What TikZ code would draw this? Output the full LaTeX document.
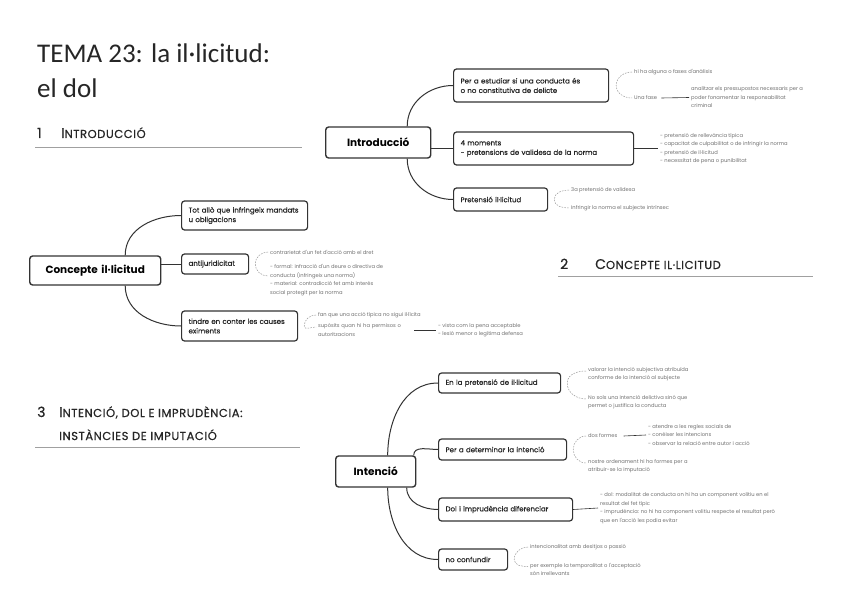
\documentclass[tikz,border=0pt]{standalone}
\usepackage{fontspec}
\setmainfont{Carlito}
\newfontfamily\pop{Poppins}
\newfontfamily\popm[FakeBold=0.35]{Poppins}
\newfontfamily\poph[FakeBold=0.6,LetterSpace=5]{Poppins}
\usetikzlibrary{calc}
\definecolor{boxc}{HTML}{333333}
\definecolor{txt}{HTML}{262626}
\definecolor{tinyc}{HTML}{707070}
\definecolor{dashc}{HTML}{9A9A9A}
\definecolor{rulec}{HTML}{A0A0A0}
\newcommand{\bigc}[1]{{\fontsize{14}{14}\selectfont #1}}
\newcommand{\smc}[1]{{\fontsize{11.5}{12}\selectfont #1}}
\begin{document}
\begin{tikzpicture}[x=1pt,y=-1pt,
 box/.style={draw=boxc, line width=1.2pt, rounded corners=3pt, fill=white, inner xsep=7pt, inner ysep=2pt, font=\popm\fontsize{7}{9.5}\selectfont, text=txt, align=left, anchor=west},
 rootbox/.style={box, line width=1.4pt, font=\pop\bfseries\fontsize{10.5}{12}\selectfont, align=center, text=black},
 tiny/.style={font=\pop\fontsize{5.2}{8.5}\selectfont, text=tinyc, align=left, anchor=west, inner xsep=2pt, inner ysep=0pt},
 conn/.style={draw=boxc, line width=1pt},
 lconn/.style={draw=boxc, line width=0.6pt},
 dconn/.style={draw=dashc, line width=0.5pt, dash pattern=on 1.6pt off 1.2pt},
 hrule/.style={draw=rulec, line width=0.9pt},
 heading/.style={font=\poph, text=txt, anchor=base west, inner sep=0pt},
 titlef/.style={font=\fontsize{27}{27}\selectfont, text=txt, anchor=base west, inner sep=0pt},
]
\useasboundingbox[fill=white] (0,0) rectangle (848,599);

% ---------- headings ----------
\node[titlef] (title1) at (37,63) {TEMA 23: la il·licitud:};
\node[titlef] (title2) at (37,98) {el dol};
\node[heading] (h1n) at (37,138) {\bigc{1}};
\node[heading] (h1t) at (61,138) {\bigc{I}\smc{NTRODUCCIÓ}};
\draw[hrule] (35,147) -- (302,147);
\node[heading] (h2n) at (560,269) {\bigc{2}};
\node[heading] (h2t) at (595,269) {\bigc{C}\smc{ONCEPTE IL·LICITUD}};
\draw[hrule] (558,276) -- (813,276);
\node[heading] (h3n) at (37,417) {\bigc{3}};
\node[heading] (h3t) at (59,417) {\bigc{I}\smc{NTENCIÓ, DOL E IMPRUDÈNCIA:}};
\node[heading] (h3u) at (59,440) {\smc{INSTÀNCIES DE IMPUTACIÓ}};
\draw[hrule] (35,447) -- (300,447);

% ---------- Introducció ----------
\node[rootbox, minimum width=105, minimum height=31, text width=91] (I) at (325,142.5) {Introducció};
\node[box, minimum width=155, minimum height=33, text width=141] (i1) at (453,85.5) {Per a estudiar si una conducta és\\o no constitutiva de delicte};
\node[box, minimum width=180, minimum height=33, text width=166] (i2) at (453,148.5) {4 moments\\- pretensions de validesa de la norma};
\node[box, minimum width=94, minimum height=23, text width=80] (i3) at (453,199.5) {Pretensió il·licitud};
\draw[conn] ([xshift=29]I.north) to[out=90,in=180] (i1.west);
\draw[conn] (I.east |- i2.west) -- (i2.west);
\draw[conn] ([xshift=29]I.south) to[out=-90,in=180] (i3.west);

\coordinate (bi1) at ($(i1.east)+(7,0)$);
\node[tiny] (ta1) at (632,72) {hi ha alguna o fases d'anàlisis};
\node[tiny] (ta2) at (632,98) {Una fase};
\node[tiny] (ta3) at (689,97.5) {analitzar els pressupostos necessaris per a\\poder fonamentar la responsabilitat\\criminal};
\draw[dconn] (ta1.west) to[out=180,in=90] (bi1) to[out=-90,in=180] (ta2.west);
\draw[lconn] ([xshift=2]ta2.east) -- (ta3.west);

\node[tiny] (ti2) at (658,148.5) {- pretensió de rellevància típica\\- capacitat de culpabilitat o de infringir la norma\\- pretensió de il·licitud\\- necessitat de pena o punibilitat};
\draw[lconn] (i2.east) -- (ti2.west);

\coordinate (bi3) at ($(i3.east)+(6,0)$);
\node[tiny] (tb1) at (569,190) {3a pretensió de validesa};
\node[tiny] (tb2) at (569,208) {Infringir la norma el subjecte intrínsec};
\draw[dconn] (tb1.west) to[out=180,in=90] (bi3) to[out=-90,in=180] (tb2.west);

% ---------- Concepte il·licitud ----------
\node[rootbox, minimum width=131, minimum height=29, text width=117] (C) at (29,270.5) {Concepte il·licitud};
\node[box, minimum width=126, minimum height=29, text width=112] (c1) at (181,215.5) {Tot allò que infringeix mandats\\u obligacions};
\node[box, minimum width=67, minimum height=20, text width=53] (c2) at (181,264) {antijuridicitat};
\node[box, minimum width=116, minimum height=30, text width=102] (c3) at (181,326) {tindre en conter les causes\\eximents};
\draw[conn] ([xshift=30]C.north) to[out=90,in=180] (c1.west);
\draw[conn] (C.east |- c2.west) -- (c2.west);
\draw[conn] ([xshift=30]C.south) to[out=-90,in=180] (c3.west);

\coordinate (bc2) at ($(c2.east)+(6,0)$);
\node[tiny] (tc1) at (268,252) {contrarietat d'un fet d'acció amb el dret};
\node[tiny] (tc2) at (268,280) {- formal: infracció d'un deure o directiva de\\conducta (infringeix una norma)\\- material: contradicció fet amb interès\\social protegit per la norma};
\draw[dconn] (tc1.west) to[out=180,in=90] (bc2) to[out=-90,in=180] ([yshift=4]tc2.west);

\coordinate (bc3) at ($(c3.east)+(6,0)$);
\node[tiny] (td1) at (316,315) {fan que una acció típica no sigui il·lícita};
\node[tiny, text width=94] (td2) at (316,330) {supòsits quan hi ha permisos o\\autoritzacions};
\node[tiny] (td3) at (436,330) {- vista com la pena acceptable\\- lesió menor o legítima defensa};
\draw[dconn] (td1.west) to[out=180,in=90] (bc3) to[out=-90,in=180] ([yshift=3]td2.west);
\draw[lconn] (td2.east) -- (td3.west);

% ---------- Intenció ----------
\node[rootbox, minimum width=80, minimum height=31, text width=66] (N) at (335,471.5) {Intenció};
\node[box, minimum width=120, minimum height=20, text width=108] (n1) at (438,383) {En la pretensió de il·licitud};
\node[box, minimum width=128, minimum height=21, text width=114] (n2) at (438,449.5) {Per a determinar la intenció};
\node[box, minimum width=134, minimum height=23, text width=120] (n3) at (438,509.5) {Dol i imprudència diferenciar};
\node[box, minimum width=69, minimum height=21, text width=55] (n4) at (438,559.5) {no confundir};
\draw[conn] ([xshift=12]N.north) to[out=90,in=180] (n1.west);
\draw[conn] ([xshift=38]N.north) to[out=90,in=180] (n2.west);
\draw[conn] ([xshift=31]N.south) to[out=-90,in=180] (n3.west);
\draw[conn] ([xshift=12]N.south) to[out=-90,in=180] (n4.west);

\coordinate (bn1) at ($(n1.east)+(6,0)$);
\node[tiny] (tn1) at (586,374) {valorar la intenció subjectiva atribuïda\\conforme de la intenció al subjecte};
\node[tiny] (tn2) at (586,402) {No sols una intenció delictiva sinó que\\permet o justifica la conducta};
\draw[dconn] ([yshift=3]tn1.west) to[out=180,in=90] (bn1) to[out=-90,in=180] ([yshift=3]tn2.west);

\coordinate (bn2) at ($(n2.east)+(6,0)$);
\node[tiny] (tn3) at (586,436) {dos formes};
\node[tiny] (tn4) at (646,435) {- atendre a les regles socials de\\- conèixer les intencions\\- observar la relació entre autor i acció};
\node[tiny] (tn5) at (586,466) {nostre ordenament hi ha formes per a\\atribuir-se la imputació};
\draw[dconn] (tn3.west) to[out=180,in=90] (bn2) to[out=-90,in=180] ([yshift=3]tn5.west);
\draw[lconn] ([xshift=4]tn3.east) -- (tn4.west);

\node[tiny] (tn6) at (598,508) {- dol: modalitat de conducta on hi ha un component volitiu en el\\resultat del fet típic\\- imprudència: no hi ha component volitiu respecte el resultat però\\que en l'acció les podia evitar};
\draw[lconn] (n3.east) -- (tn6.west);

\coordinate (bn4) at ($(n4.east)+(6,0)$);
\node[tiny] (tn7) at (528,547) {intencionalitat amb desitjos o passió};
\node[tiny] (tn8) at (528,569.5) {per exemple la temporalitat o l'acceptació\\són irrellevants};
\draw[dconn] (tn7.west) to[out=180,in=90] (bn4) to[out=-90,in=180] ([yshift=3]tn8.west);
\end{tikzpicture}
\end{document}
